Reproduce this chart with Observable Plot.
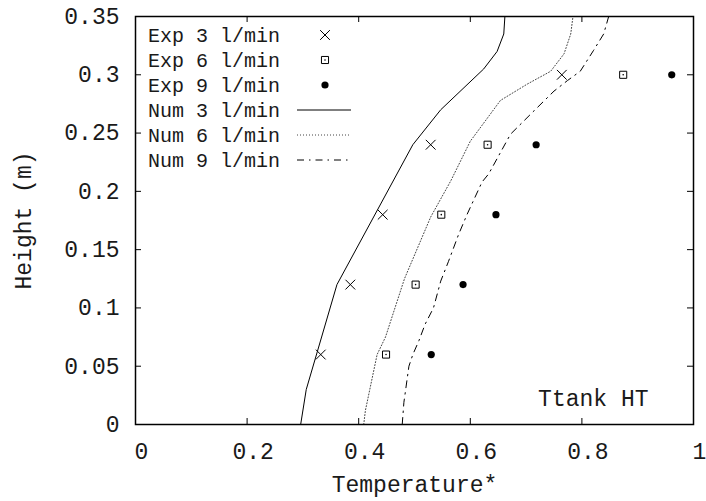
<!DOCTYPE html>
<html><head><meta charset="utf-8">
<script src="https://cdn.jsdelivr.net/npm/d3@7"></script>
<script src="https://cdn.jsdelivr.net/npm/@observablehq/plot@0.6"></script>
<style>
body{margin:0;background:#fff}
#wrap{position:relative;width:706px;height:501px}
</style></head><body><div id="wrap"></div>
<script>
// Experimental data (height in m, dimensionless temperature)
const heights = [0.06, 0.12, 0.18, 0.24, 0.30];
const exp3 = [0.332, 0.385, 0.443, 0.529, 0.764];
const exp6 = [0.449, 0.502, 0.548, 0.631, 0.874];
const exp9 = [0.530, 0.587, 0.646, 0.718, 0.961];

// Numerical profiles
const num3H = [0, 0.03, 0.12, 0.24, 0.27, 0.305, 0.32, 0.335, 0.35];
const num3T = [0.296, 0.306, 0.361, 0.497, 0.547, 0.624, 0.648, 0.660, 0.662];
const num6H = [0, 0.012, 0.06, 0.075, 0.125, 0.178, 0.209, 0.243, 0.278, 0.292, 0.303, 0.318, 0.335, 0.35];
const num6T = [0.409, 0.412, 0.433, 0.448, 0.482, 0.529, 0.565, 0.600, 0.654, 0.702, 0.744, 0.768, 0.780, 0.784];
const num9H = [0, 0.019, 0.05, 0.06, 0.072, 0.086, 0.10, 0.123, 0.14, 0.163, 0.18, 0.208, 0.215, 0.249, 0.269, 0.286, 0.295, 0.303, 0.321, 0.335, 0.35];
const num9T = [0.478, 0.481, 0.490, 0.497, 0.508, 0.519, 0.534, 0.547, 0.561, 0.579, 0.594, 0.621, 0.633, 0.672, 0.714, 0.750, 0.774, 0.797, 0.821, 0.839, 0.848];

const xTicks = [0, 0.2, 0.4, 0.6, 0.8, 1];
const yTicks = [0, 0.05, 0.1, 0.15, 0.2, 0.25, 0.3, 0.35];
const legendLabels = ["Exp 3 l/min", "Exp 6 l/min", "Exp 9 l/min", "Num 3 l/min", "Num 6 l/min", "Num 9 l/min"];
const xLabel = "Temperature*";
const yLabel = "Height (m)";
const note = "Ttank HT";

const FONT = '"Courier New", "Liberation Mono", monospace';
const TEXT = "#1a1a1a";
const DOTTED = "1,2";
const DASHDOT = "7,5,1.5,5";

const toRows = (T, H) => T.map((t, i) => ({t, h: H[i]}));
const exp3Rows = toRows(exp3, heights);
const exp6Rows = toRows(exp6, heights);
const exp9Rows = toRows(exp9, heights);

const chart = Plot.plot({
  width: 706, height: 501,
  marginLeft: 135, marginRight: 13, marginTop: 16, marginBottom: 77,
  x: {domain: [0, 1]},
  y: {domain: [0, 0.35]},
  style: {fontFamily: FONT, fontSize: "23px", background: "white", color: TEXT},
  marks: [
    Plot.line(toRows(num3T, num3H), {x: "t", y: "h", stroke: "black", strokeWidth: 1}),
    Plot.line(toRows(num6T, num6H), {x: "t", y: "h", stroke: "#444", strokeWidth: 1, strokeDasharray: DOTTED}),
    Plot.line(toRows(num9T, num9H), {x: "t", y: "h", stroke: "black", strokeWidth: 1, strokeDasharray: DASHDOT}),
    Plot.dot(exp3Rows, {x: "t", y: "h", symbol: "times", r: 4.5, stroke: "black", strokeWidth: 1}),
    Plot.dot(exp6Rows, {x: "t", y: "h", symbol: "square", r: 4, stroke: "black", fill: "none", strokeWidth: 1}),
    Plot.dot(exp6Rows, {x: "t", y: "h", r: 0.8, fill: "black", stroke: "none"}),
    Plot.dot(exp9Rows, {x: "t", y: "h", r: 3.6, fill: "black", stroke: "none"}),
    Plot.frame({stroke: "black", strokeWidth: 1.5}),
    Plot.tickX(xTicks, {x: d => d, insetTop: 402, stroke: "black"}),
    Plot.tickX(xTicks, {x: d => d, insetBottom: 402, stroke: "black"}),
    Plot.tickY(yTicks, {y: d => d, insetRight: 552, stroke: "black"}),
    Plot.tickY(yTicks, {y: d => d, insetLeft: 552, stroke: "black"}),
    Plot.axisX({ticks: xTicks, tickSize: 0, tickPadding: 18, dx: 6, label: null, fontSize: 23, fill: TEXT, tickFormat: d => String(d)}),
    Plot.axisY({ticks: yTicks, tickSize: 0, tickPadding: 16, label: null, fontSize: 23, fill: TEXT, tickFormat: d => String(d)}),
    Plot.text([xLabel], {text: d => d, frameAnchor: "bottom", lineAnchor: "middle", textAnchor: "middle", dy: 60, fontSize: 23, fill: TEXT}),
    Plot.text([yLabel], {text: d => d, frameAnchor: "left", textAnchor: "middle", lineAnchor: "middle", dx: -112, rotate: -90, fontSize: 23, fill: TEXT}),
    Plot.text([note], {text: d => d, frameAnchor: "bottom-right", lineAnchor: "middle", textAnchor: "end", dx: -45, dy: -26, fontSize: 23, fill: TEXT})
  ]
});

const wrap = document.getElementById("wrap");
wrap.appendChild(chart);

// Legend overlay (gnuplot-style key, top-left inside the frame)
const leg = d3.create("svg")
  .attr("width", 706).attr("height", 501)
  .style("position", "absolute").style("left", "0px").style("top", "0px")
  .style("pointer-events", "none");
const legendStyles = [
  {kind: "times"}, {kind: "square"}, {kind: "circle"},
  {kind: "line", dash: null, stroke: "black"},
  {kind: "line", dash: DOTTED, stroke: "#444"},
  {kind: "line", dash: DASHDOT, stroke: "black"}
];
legendLabels.forEach((lab, i) => {
  const y = 35 + 25 * i;
  leg.append("text").attr("x", 148).attr("y", y).attr("dy", "0.35em")
    .attr("font-size", 20).attr("font-family", FONT).attr("fill", TEXT).text(lab);
  const s = legendStyles[i];
  const mx = 325;
  if (s.kind === "times") {
    leg.append("path").attr("transform", `translate(${mx},${y})`)
      .attr("d", d3.symbol(d3.symbolTimes, Math.PI * 4.5 * 4.5)())
      .attr("fill", "none").attr("stroke", "black").attr("stroke-width", 1);
  } else if (s.kind === "square") {
    leg.append("path").attr("transform", `translate(${mx},${y})`)
      .attr("d", d3.symbol(d3.symbolSquare, Math.PI * 16)())
      .attr("fill", "none").attr("stroke", "black").attr("stroke-width", 1);
    leg.append("circle").attr("cx", mx).attr("cy", y).attr("r", 0.8).attr("fill", "black");
  } else if (s.kind === "circle") {
    leg.append("circle").attr("cx", mx).attr("cy", y).attr("r", 3.6).attr("fill", "black");
  } else {
    leg.append("line").attr("x1", 297).attr("x2", 351).attr("y1", y).attr("y2", y)
      .attr("stroke", s.stroke).attr("stroke-width", 1)
      .attr("stroke-dasharray", s.dash);
  }
});
wrap.appendChild(leg.node());
</script>
</body></html>
